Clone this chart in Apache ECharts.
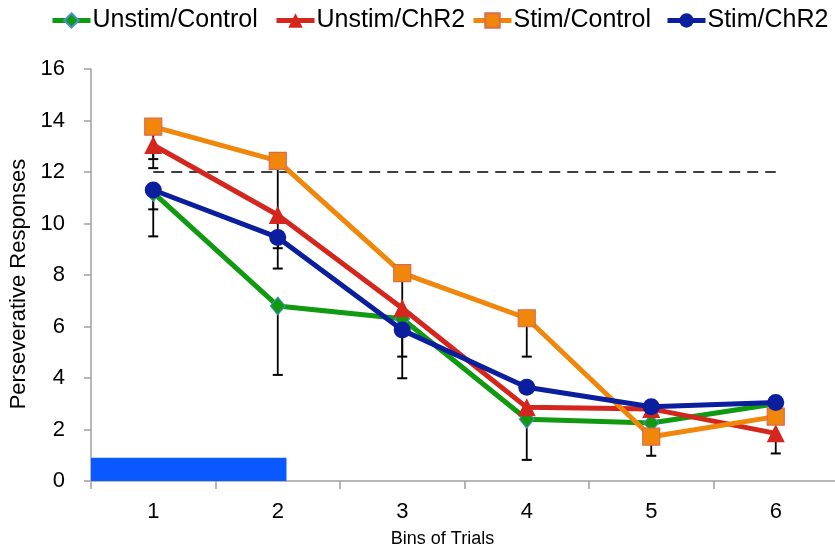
<!DOCTYPE html>
<html><head><meta charset="utf-8">
<script src="https://cdn.jsdelivr.net/npm/echarts@6/dist/echarts.min.js"></script>
<style>html,body{margin:0;padding:0;background:#fff}#c{width:835px;height:550px}</style>
</head><body><div id="c"></div>
<script>
// ---- data ----
var bins = ['1','2','3','4','5','6'];
var seriesNames = ['Unstim/Control','Unstim/ChR2','Stim/Control','Stim/ChR2'];
var unstimControl = [11.2, 6.8, 6.3, 2.4, 2.25, 3.0];
var unstimChR2    = [13.05, 10.33, 6.71, 2.86, 2.8, 1.85];
var stimControl   = [13.76, 12.43, 8.07, 6.32, 1.72, 2.5];
var stimChR2      = [11.3, 9.46, 5.86, 3.64, 2.88, 3.05];
// lower ends of error bars (null = hidden under marker)
var unstimControlLow = [9.5, 4.12, 3.99, 0.82, null, null];
var unstimChR2Low    = [12.5, null, null, null, null, 1.07];
var stimControlLow   = [12.15, 8.25, 4.83, 4.83, 0.98, null];
var stimChR2Low      = [10.55, 9.04, null, null, null, null];
var criterion = [12, 12, 12, 12, 12, 12];
// stimulation period bar: [xStart, xEnd, height] on bin scale
var stimPeriod = [[0.5, 2.07, 0.9]];

var FONT = 'Liberation Sans';
var chart = echarts.init(document.getElementById('c'), null, {renderer:'canvas'});

function errRows(vals, lows){
  var r = [];
  for (var i=0;i<vals.length;i++){ if (lows[i] !== null) r.push([i, vals[i], lows[i]]); }
  return r;
}
var errData = [].concat(
  errRows(unstimControl, unstimControlLow),
  errRows(unstimChR2, unstimChR2Low),
  errRows(stimControl, stimControlLow),
  errRows(stimChR2, stimChR2Low));

var legendLefts = [50, 274, 471, 665];
var legends = seriesNames.map(function(n, i){
  return {
    data:[n], left:legendLefts[i], top:3, itemWidth:38, itemHeight:18, itemGap:0,
    lineStyle:{width:5}, padding:[5,0,5,0],
    textStyle:{fontSize:25, color:'#000', fontFamily:FONT, padding:[0,0,0,-3]}
  };
});

var option = {
  animation:false,
  textStyle:{fontFamily:FONT},
  legend:legends,
  grid:{left:91, top:69, width:747, height:412, outerBoundsMode:'none', containLabel:false},
  xAxis:[{
    type:'category', data:bins, boundaryGap:true,
    axisLine:{lineStyle:{color:'#a0a0a0', width:1.5}},
    axisTick:{show:true, length:8, lineStyle:{color:'#a0a0a0', width:1.5}},
    axisLabel:{fontSize:22, color:'#000', margin:20, fontFamily:FONT},
    name:'Bins of Trials', nameLocation:'middle', nameGap:49,
    nameTextStyle:{fontSize:18, color:'#000', fontFamily:FONT, padding:[0,44,0,0]},
    splitLine:{show:false}
  },{
    type:'value', min:0.5, max:6.5, show:false
  }],
  yAxis:{
    type:'value', min:0, max:16, interval:2,
    axisLine:{show:true, lineStyle:{color:'#a0a0a0', width:1.5}},
    axisTick:{show:true, length:7, lineStyle:{color:'#a0a0a0', width:1.5}},
    axisLabel:{fontSize:22, color:'#000', margin:26, fontFamily:FONT},
    splitLine:{show:false},
    name:'Perseverative Responses', nameLocation:'middle', nameGap:59,
    nameTextStyle:{fontSize:22, color:'#000', fontFamily:FONT, padding:[0,18,0,0]}
  },
  series:[
    {
      type:'custom', xAxisIndex:1, z:1, silent:true,
      data:stimPeriod,
      renderItem:function(params, api){
        var p0 = api.coord([api.value(0), api.value(2)]);
        var p1 = api.coord([api.value(1), 0]);
        return {type:'rect', shape:{x:p0[0], y:p0[1], width:p1[0]-p0[0], height:p1[1]-p0[1]},
          style:{fill:'#0a58ff'}};
      }
    },
    {
      type:'line', data:criterion, symbol:'none', z:1, silent:true,
      lineStyle:{color:'#000', width:1.5, type:[11,7]}
    },
    {
      type:'custom', z:2, silent:true, data:errData,
      renderItem:function(params, api){
        var top = api.coord([api.value(0), api.value(1)]);
        var bot = api.coord([api.value(0), api.value(2)]);
        var hw = 5;
        return {type:'group', children:[
          {type:'line', shape:{x1:top[0], y1:top[1], x2:bot[0], y2:bot[1]}, style:{stroke:'#000', lineWidth:1.8}},
          {type:'line', shape:{x1:bot[0]-hw, y1:bot[1], x2:bot[0]+hw, y2:bot[1]}, style:{stroke:'#000', lineWidth:2}}
        ]};
      }
    },
    {
      name:seriesNames[0], type:'line', data:unstimControl, z:3,
      symbol:'diamond', symbolSize:[15,18],
      itemStyle:{color:'#0f9a10', borderColor:'#4a8fd0', borderWidth:1},
      lineStyle:{color:'#0f9a10', width:5}
    },
    {
      name:seriesNames[1], type:'line', data:unstimChR2, z:4,
      symbol:'triangle', symbolSize:18,
      itemStyle:{color:'#d4261d', borderColor:'#d4261d', borderWidth:0},
      lineStyle:{color:'#d4261d', width:5}
    },
    {
      name:seriesNames[2], type:'line', data:stimControl, z:5,
      symbol:'rect', symbolSize:17,
      itemStyle:{color:'#f0870b', borderColor:'#d96a50', borderWidth:1.2},
      lineStyle:{color:'#f0870b', width:5}
    },
    {
      name:seriesNames[3], type:'line', data:stimChR2, z:6,
      symbol:'circle', symbolSize:17,
      itemStyle:{color:'#0a1e9e', borderColor:'#0a1e9e', borderWidth:0},
      lineStyle:{color:'#0a1e9e', width:5}
    }
  ]
};
chart.setOption(option);
</script></body></html>
